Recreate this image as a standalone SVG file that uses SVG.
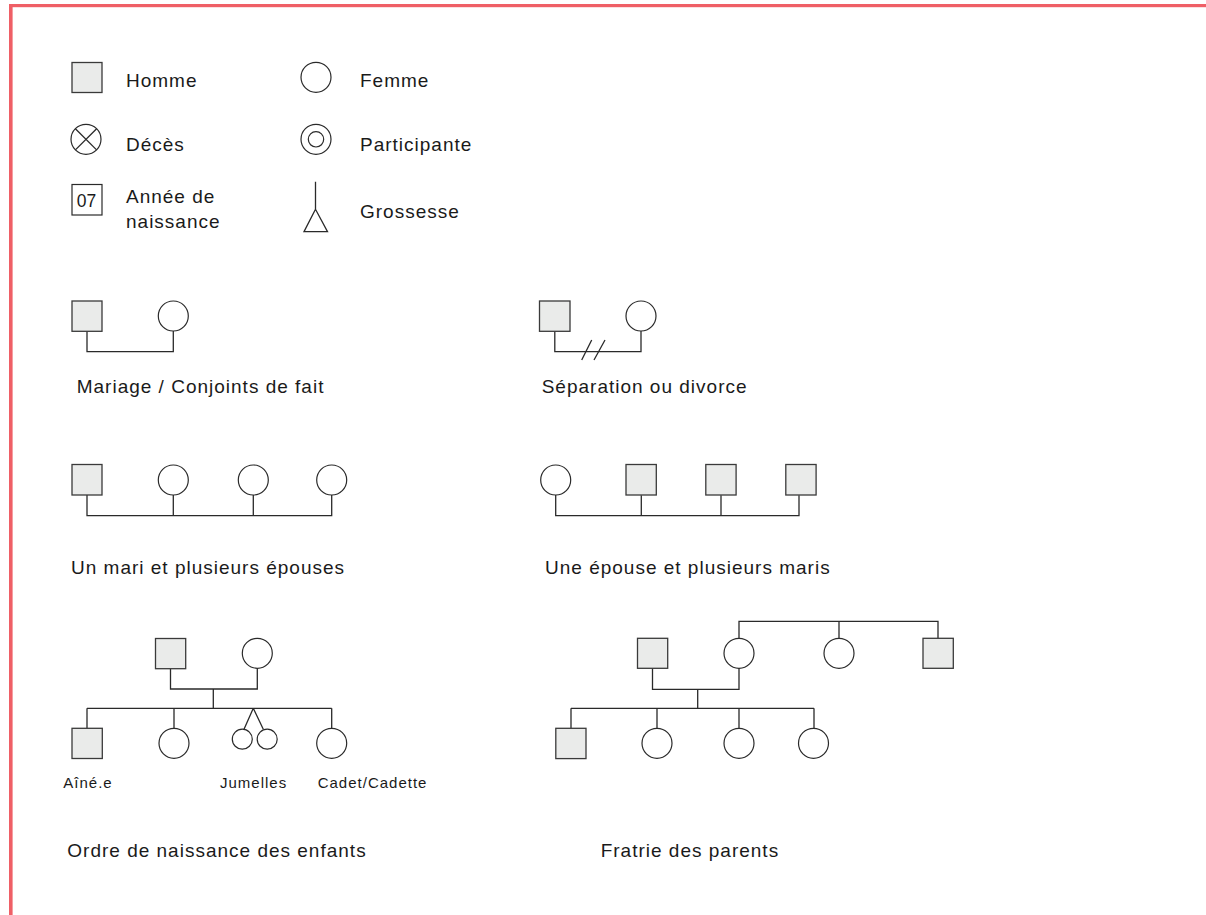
<svg xmlns="http://www.w3.org/2000/svg" width="1206" height="915" viewBox="0 0 1206 915">
<style>
.m{fill:#eaebea;stroke:#3a3a3a;stroke-width:1.3}
.f{fill:#fff;stroke:#2a2a2a;stroke-width:1.2}
.ln{fill:none;stroke:#2a2a2a;stroke-width:1.3}
.t{font-family:"Liberation Sans",Arial,sans-serif;font-size:19px;letter-spacing:1px;fill:#1a1a1a}
.s{font-family:"Liberation Sans",Arial,sans-serif;font-size:15px;letter-spacing:1px;fill:#1a1a1a}
</style>
<rect x="0" y="0" width="1206" height="915" fill="#fff"/>
<g id="border" fill="#ef5f66">
<rect x="9" y="4" width="1197" height="3.2"/>
<rect x="9" y="4" width="3.6" height="911"/>
</g>
<g id="legend">
<g id="lg-homme"><rect class="m" x="72" y="62.5" width="30" height="30"/><text class="t" x="126" y="87.3">Homme</text></g>
<g id="lg-femme"><circle class="f" cx="316" cy="77.3" r="15"/><text class="t" x="360" y="87.3">Femme</text></g>
<g id="lg-deces"><circle class="f" cx="86" cy="139.3" r="15"/><path class="ln" d="M75.4 128.7L96.6 149.9M96.6 128.7L75.4 149.9"/><text class="t" x="126" y="151">Décès</text></g>
<g id="lg-participante"><circle class="f" cx="316" cy="139.3" r="15"/><circle class="f" cx="316" cy="139.3" r="7.7"/><text class="t" x="360" y="151">Participante</text></g>
<g id="lg-annee"><rect class="f" x="72" y="184.5" width="30" height="30.5"/><text x="76.7" y="206.7" font-family="'Liberation Sans',Arial,sans-serif" font-size="17.5" fill="#1a1a1a">07</text><text class="t" x="126" y="203.3">Année de</text><text class="t" x="126" y="227.7">naissance</text></g>
<g id="lg-grossesse"><path class="ln" d="M315.5 181.7V209.3M315.5 209.3L304 231.7H327.5Z"/><text class="t" x="360" y="218.3">Grossesse</text></g>
</g>
<g id="connectors">
<path class="ln" d="M87 331.3V351.7H173.3V331"/>
<path class="ln" d="M554.8 331.3V351.7H641V331"/>
<path class="ln" d="M581.7 360L591.7 340M594 360L605 340"/>
<path class="ln" d="M87 495V515.7H331.7V495M173.3 515.7V495M253.3 515.7V495"/>
<path class="ln" d="M555.7 495V515.7H799V495.2M641.3 515.7V495.2M721 515.7V495.2"/>
<path class="ln" d="M170.5 668.7V689H257.3V668.3M213.3 689V708.3M87 708.3H331.7M87 708.3V728.3M174 708.3V728.3M331.7 708.3V728.3M253.3 708.3L244 729.3M253.3 708.3L263.3 729.3"/>
<path class="ln" d="M739 638.3V621.3H938V638.3M839 621.3V638.3M652.5 668.3V689.3H739V668.3M697.7 689.3V708.3M571 708.3H814M571 708.3V728.3M657 708.3V728.3M739 708.3V728.3M814 708.3V728.3"/>
</g>
<g id="mariage">
<rect class="m" x="72" y="301" width="30" height="30.3"/>
<circle class="f" cx="173.3" cy="316" r="15"/>
<text class="t" x="76.7" y="392.7">Mariage / Conjoints de fait</text>
</g>
<g id="separation">
<rect class="m" x="539.5" y="301" width="30.5" height="30.3"/>
<circle class="f" cx="641" cy="316" r="15"/>
<text class="t" x="541.7" y="392.7">Séparation ou divorce</text>
</g>
<g id="un-mari">
<rect class="m" x="72" y="464.5" width="30" height="30.5"/>
<circle class="f" cx="173.3" cy="480" r="15"/>
<circle class="f" cx="253.3" cy="480" r="15"/>
<circle class="f" cx="331.7" cy="480" r="15"/>
<text class="t" x="71" y="574.3">Un mari et plusieurs épouses</text>
</g>
<g id="une-epouse">
<circle class="f" cx="555.7" cy="480" r="15"/>
<rect class="m" x="626" y="464.5" width="30.3" height="30.5"/>
<rect class="m" x="705.8" y="464.5" width="30.3" height="30.5"/>
<rect class="m" x="785.8" y="464.5" width="30.3" height="30.5"/>
<text class="t" x="545" y="574.3">Une épouse et plusieurs maris</text>
</g>
<g id="ordre">
<rect class="m" x="155.5" y="638.5" width="30.2" height="30.2"/>
<circle class="f" cx="257.3" cy="653.3" r="15"/>
<rect class="m" x="72" y="728.3" width="30.3" height="30.2"/>
<circle class="f" cx="174" cy="743.3" r="15"/>
<circle class="f" cx="242.3" cy="739.2" r="10"/>
<circle class="f" cx="267.2" cy="739.2" r="10"/>
<circle class="f" cx="331.7" cy="743.3" r="15"/>
<text class="s" x="63.3" y="787.7">Aîné.e</text>
<text class="s" x="220" y="787.7">Jumelles</text>
<text class="s" x="317.7" y="787.7">Cadet/Cadette</text>
<text class="t" x="67.3" y="856.7">Ordre de naissance des enfants</text>
</g>
<g id="fratrie">
<rect class="m" x="637.5" y="638.3" width="30.2" height="30"/>
<circle class="f" cx="739" cy="653.3" r="15"/>
<circle class="f" cx="839" cy="653.3" r="15"/>
<rect class="m" x="923" y="638.3" width="30.3" height="30"/>
<rect class="m" x="555.8" y="728.3" width="30.2" height="30.3"/>
<circle class="f" cx="657" cy="743.3" r="15"/>
<circle class="f" cx="739" cy="743.3" r="15"/>
<circle class="f" cx="813.5" cy="743.3" r="15"/>
<text class="t" x="600.7" y="856.7">Fratrie des parents</text>
</g>
</svg>
